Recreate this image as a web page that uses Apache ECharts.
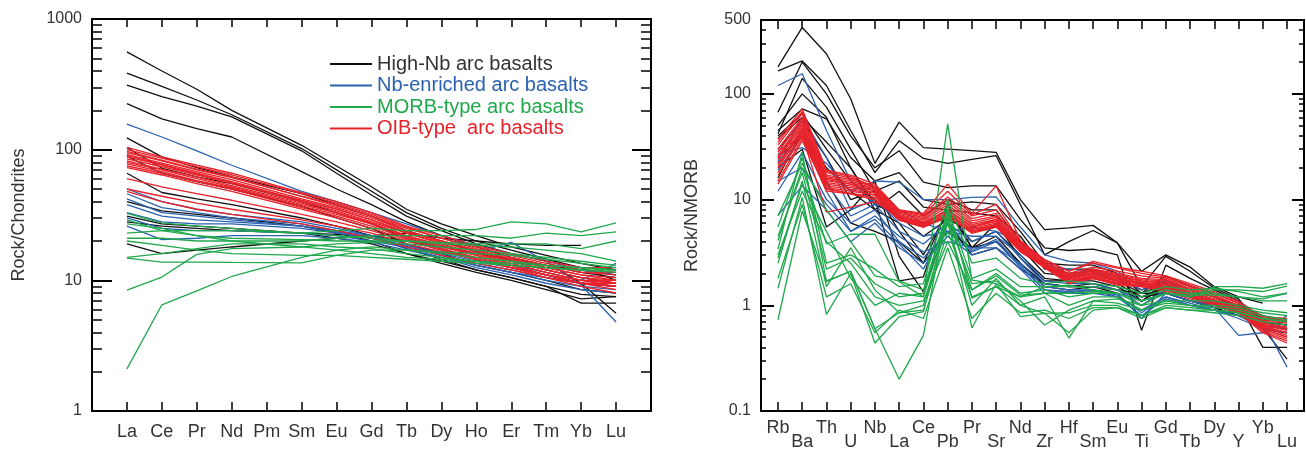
<!DOCTYPE html>
<html>
<head>
<meta charset="utf-8">
<script src="https://cdn.jsdelivr.net/npm/echarts@6/dist/echarts.min.js"></script>
<style>
  html, body { margin: 0; padding: 0; background: #fff; }
  #chart { width: 1306px; height: 451px; }
</style>
</head>
<body>
<div id="chart"></div>
<script>
// ---- data ----
const reeLabels = ['La', 'Ce', 'Pr', 'Nd', 'Pm', 'Sm', 'Eu', 'Gd', 'Tb', 'Dy', 'Ho', 'Er', 'Tm', 'Yb', 'Lu'];
const spiderLabels = ['Rb', 'Ba', 'Th', 'U', 'Nb', 'La', 'Ce', 'Pb', 'Pr', 'Sr', 'Nd', 'Zr', 'Hf', 'Sm', 'Eu', 'Ti', 'Gd', 'Tb', 'Dy', 'Y', 'Yb', 'Lu'];

// rock / chondrite (Pm not analysed)
const reeHighNb = [
  [560, 400, 290, 200, null, 108, 75, 52, 35, 27, 22, 18, 15.5, 13.5, 12],
  [385, 305, 240, 185, null, 102, 70, 48, 33, 25, 20, 17, 14.5, 12.5, 10],
  [312, 255, 215, 178, null, 98, 66, 45, 31, 24, 19, 16, 14, 9.5, 5.6],
  [225, 172, 145, 125, null, 68, 50, 38, 28, 22, 18, 15, 13, 11.5, 10.5],
  [123, 88, 73, 62, null, 46, 38, 31, 24, 20, 16.5, 14, 12, 10.5, 9.5],
  [104, 72, 62, 55, null, 40, 33, 27, 21, 17.5, 14.5, 12.5, 11, 9.5, 9],
  [89, 66, 57, 50, null, 37, 30, 25, 19, 16, 13, 11.5, 10, 8.5, 8],
  [66, 47, 42, 38, null, 30, 26, 22, 17.5, 14.5, 12, 10.5, 9, 7.8, 7.5],
  [40, 34, 32, 30, null, 26, 23, 20, 16, 13.5, 11.5, 10, 8.5, 7.2, 7.5],
  [31, 27, 26, 25, null, 23, 21, 19, 16, 14, 12, 10.5, 9, 6.7, 6.7],
  [28, 26, 25, 24, null, 23, 22.5, 22, 20, 18, 16, 14.5, 13, 12, 11],
  [19, 16, 17, 18, null, 20, 21, 22, 23, 21, 20, 19, 18.5, 18.5, null]
];
const reeNbEnriched = [
  [157, 125, 98, 76, null, 48, 40, 33, 27, 22, 18.5, 16, 14, 12, 11],
  [50, 40, 35, 32, null, 28, 25, 22, 18, 15.5, 13, 11.5, 10, 9, 8.5],
  [46, 36, 33, 30, null, 27, 24, 21, 17.5, 15, 12.5, 11, 9.5, 8.5, 8],
  [42, 33, 31, 29, null, 26, 23.5, 21, 18, 15.5, 13.5, 12, 10.5, 9.5, 9],
  [38, 31, 29, 28, null, 26, 24, 22, 19, 16.5, 14.5, 13, 11.5, 10, 13.5],
  [33, 28, 27, 27, null, 25, 23, 21, 18.5, 16, 16.5, 19.5, 14, 9.2, 4.8],
  [30, 25, 24, 24, null, 23, 22, 20, 18, 16, 14, 12.5, 11, 9.5, 9],
  [26, 20.5, 21, 22, null, 22, 21, 19.5, 17, 15, 13, 11.5, 10.5, 9.5, 9]
];
const reeMorb = [
  [2.1, 6.5, 8.3, 10.7, null, 15, 17, 18, 17, 16, 15, 14, 13, 12.5, 12],
  [8.4, 10.6, 15.8, 17.5, null, 18, 19, 19.5, 19, 18, 17, 16, 15, 14, 13],
  [14.8, 13.8, 13.8, 13.7, null, 13.6, 15.5, 17, 17, 16.5, 16, 15.5, 14.5, 13.5, 12.5],
  [15, 16, 17.5, 19, null, 19, 18, 17.5, 16, 15, 14, 13, 12.5, 12, 11.5],
  [32.5, 27.5, 26, 25, null, 23, 22, 21, 20, 19, 18.5, 18, 17, 16, 14],
  [23, 24, 24, 24, null, 23, 24, 25, 24, 24, 24.5, 28, 27, 23.5, 27.5],
  [21, 21, 20, 20, null, 20, 21, 22, 22, 22, 22, 21, 23, 22, 23.5],
  [27, 25, 22, 21, null, 20.5, 20, 20, 20, 19.5, 19, 19, 19, 17.5, 20],
  [29, 24, 22, 20, null, 18, 17, 16, 15, 14.5, 14, 13.5, 13, 12.5, 12],
  [20, 18.5, 17, 16, null, 15.5, 15.5, 15, 14.5, 14, 13.5, 13, 12.5, 12, 12]
];
const reeOib = [
  [104, 88, 76, 66, null, 47, 40, 33, 26, 22, 18.5, 16, 14, 12.5, 12.5],
  [100, 86, 74, 64, null, 46, 39, 32, 25.5, 21, 18, 15.5, 13.5, 12, 11.5],
  [97, 83, 71, 62, null, 44, 37, 31, 25, 21, 17.5, 15, 13, 11.5, 11],
  [95, 82, 70, 61, null, 44, 38, 31, 24, 20, 17, 14.5, 12.5, 11, 10.5],
  [92, 79, 68, 59, null, 42, 36, 30, 24, 20, 17, 14.5, 12.5, 11, 10],
  [90, 77, 66, 57, null, 41, 35, 29, 23, 19.5, 16.5, 14, 12, 10.5, 10],
  [88, 76, 65, 56, null, 41, 35, 29, 23.5, 20, 17, 14.5, 13, 11.5, 11.5],
  [85, 74, 64, 55, null, 40, 34, 28, 23, 19, 16, 14, 12, 10.5, 9.5],
  [82, 71, 62, 53, null, 39, 33, 27.5, 22, 18.5, 16, 13.5, 11.5, 10, 9],
  [80, 70, 60, 52, null, 38, 33, 27, 22, 18.5, 15.5, 13.5, 11.5, 10, 9.5],
  [78, 68, 58, 51, null, 37, 32, 27, 21.5, 18, 15.5, 13, 11, 9.5, 9],
  [75, 66, 57, 50, null, 36, 31, 26, 21, 17.5, 15, 13, 11, 9.5, 8.5],
  [73, 64, 55, 48, null, 35, 30, 25, 20.5, 17, 14.5, 12.5, 10.5, 9, 8],
  [60, 52, 46, 41, null, 32, 28, 24, 20, 17, 14.5, 12.5, 11, 9.5, 9],
  [50, 44, 39, 35, null, 29, 26, 23, 19, 16.5, 14.5, 12.5, 11, 10, 10],
  [48, 40, 35, 32, null, 27, 24, 21, 18, 15.5, 13.5, 12, 10.5, 9.5, 9.5]
];

// rock / N-MORB
const spiderHighNb = [
  [180, 425, 240, 90, 22, 54, 31, 30, 29, 28, 10, 5.2, 5.4, 5.7, 3.9, 2.1, 3.0, 2.3, 1.5, 1.2, 1.05, null],
  [165, 205, 120, 45, 18, 36, 24.5, 22, 24, 26, 9, 3.0, 4.0, 5.1, 3.9, 1.5, 2.9, 2.1, 1.45, 1.15, 0.61, 0.31],
  [67, 200, 100, 40, 20, 29, 14.6, 13, 13.5, 13.5, 6.5, 3.5, 3.3, 3.4, 3.0, 0.58, 2.4, 1.8, 1.4, 1.1, 0.75, 0.7],
  [45, 72, 58, 25, 15, 18, 10, 9, 9.5, 9, 5, 2.5, 2.4, 2.4, 2.0, 1.3, 1.9, 1.5, 1.3, 1.05, 0.4, 0.4],
  [42, 140, 75, 30, 12, 15, 8.5, 8, 7.5, 7, 4.5, 2.2, 2.2, 2.2, 1.9, 1.08, 1.7, 1.4, 1.2, 1.0, 0.8, 0.7],
  [38, 60, 35, 20, 9, 7, 4.5, 6.5, 5, 5.5, 3.5, 2.0, 1.9, 2.0, 1.7, 1.3, 1.6, 1.3, 1.1, 0.9, 0.65, 0.6],
  [16, 45, 20, 12, 8, 6, 3, 7.5, 4, 5, 3, 1.8, 1.7, 1.7, 1.5, 1.1, 1.5, 1.2, 1.0, 0.85, 0.6, 0.55],
  [30, 55, 25, 10, 12, 5, 2.5, 5, 3.5, 4, 2.5, 1.6, 1.5, 1.6, 1.4, 1.2, 1.3, 1.1, 0.95, 0.8, 0.65, 0.6],
  [20, 30, 5.5, 8, 15, 2.9, 1.34, 6, 3, 3.5, 2.2, 1.6, 1.5, 1.5, 1.4, 1.3, 1.3, 1.1, 1.0, 0.85, 0.7, 0.65],
  [40, 65, 30, 15, 10, 1.7, 1.86, 9, 3.5, 6, 2.8, 1.7, 1.7, 1.8, 1.6, 1.2, 1.5, 1.3, 1.1, 0.9, 0.7, 0.65],
  [50, 100, 60, 20, 8, 12, 7, 10, 8, 8, 4, 2.3, 2.0, 2.1, 1.8, 1.4, 1.7, 1.4, 1.2, 0.95, 0.75, 0.7],
  [25, 40, 15, 6, 5, 4, 2.5, 8, 3.5, 4.5, 2.5, 1.5, 1.4, 1.5, 1.3, 1.1, 1.3, 1.1, 0.95, 0.8, 0.65, 0.6]
];
const spiderNbEnriched = [
  [120, 155, 45, 15, 9, 8, 6, 5, 5.5, 5, 4, 2.4, 2.2, 2.1, 1.8, 1.4, 1.6, 1.3, 1.1, 0.9, 0.7, 0.6],
  [27, 31, 22, 12, 15, 14.6, 10, 10, 10.5, 10.6, 5.5, 3, 2.6, 2.5, 2.1, 1.5, 1.7, 1.3, 1.1, 0.95, 0.8, 0.7],
  [23, 60, 25, 8, 10, 6, 4.5, 5, 4.5, 4.5, 3, 1.7, 1.6, 1.6, 1.4, 1.0, 1.4, 1.2, 1.0, 0.85, 0.7, 0.26],
  [19, 40, 12, 5, 7, 4.5, 3.2, 4, 3.5, 3.5, 2.5, 1.5, 1.4, 1.4, 1.3, 0.75, 1.3, 1.1, 0.95, 0.52, 0.55, 0.8],
  [12, 28, 10, 6, 8, 4, 2.8, 5, 3.2, 4, 2.3, 1.4, 1.3, 1.4, 1.2, 0.9, 1.2, 1.0, 0.9, 0.8, 0.65, 0.6],
  [7.1, 13.5, 8, 4, 6, 3.5, 2.5, 4.5, 3, 3.5, 2.2, 1.3, 1.3, 1.3, 1.2, 0.8, 1.15, 1.0, 0.9, 0.75, 0.6, 0.55],
  [22, 45, 14, 7, 9, 5, 3.8, 6, 4, 5, 2.8, 1.6, 1.5, 1.5, 1.4, 1.1, 1.3, 1.1, 1.0, 0.85, 0.65, 0.6],
  [15, 20, 9, 5, 6.5, 3.8, 2.2, 6, 3.3, 4.2, 2.4, 1.4, 1.35, 1.4, 1.25, 0.85, 1.2, 1.05, 0.9, 0.8, 0.6, 0.55]
];
const spiderMorb = [
  [4.1, 20, 3.8, 4.7, 4.7, 1.67, 1.2, 52, 1.73, 1.6, 1.2, 1.5, 1.55, 1.4, 1.3, 1.1, 1.3, 1.2, 1.4, 1.4, 1.35, 1.52],
  [3.4, 28, 1.67, 2.1, 0.6, 0.2, 0.52, 9, 1.17, 1.5, 1.0, 1.2, 0.49, 1.1, 1.15, 1.0, 1.1, 1.1, 1.1, 1.0, 0.9, 0.85],
  [1.45, 10.5, 0.82, 2.0, 0.44, 0.78, 0.87, 7, 0.61, 1.6, 0.78, 0.84, 0.55, 0.9, 0.95, 0.75, 0.95, 0.9, 0.85, 0.8, 0.7, 0.65],
  [0.73, 7.8, 1.7, 2.1, 0.6, 0.85, 0.9, 5, 1.2, 1.5, 1.2, 1.3, 1.0, 1.2, 1.2, 0.9, 1.1, 1.0, 0.95, 0.9, 0.8, 0.73],
  [7, 22, 8, 4, 1.9, 1.7, 1.4, 8, 1.8, 2.2, 1.5, 1.5, 1.5, 1.5, 1.4, 1.2, 1.4, 1.3, 1.3, 1.2, 1.1, 1.1],
  [2.5, 15, 1.5, 3.5, 1.4, 0.85, 1.0, 6, 1.0, 1.8, 1.0, 0.84, 0.85, 1.0, 1.0, 0.8, 1.0, 0.95, 0.9, 0.85, 0.75, 0.7],
  [5.5, 25, 2.5, 3, 2.2, 1.5, 1.6, 10, 2.5, 2.8, 1.8, 1.6, 1.7, 1.6, 1.5, 1.3, 1.5, 1.4, 1.45, 1.35, 1.2, 1.3],
  [3, 12, 4, 2.5, 1.2, 1.0, 1.1, 4, 1.4, 2.0, 1.3, 1.4, 1.2, 1.3, 1.3, 1.0, 1.3, 1.2, 1.5, 1.5, 1.45, 1.6],
  [1.8, 9, 1.2, 1.6, 0.55, 0.9, 0.75, 3.5, 0.75, 1.3, 0.85, 0.9, 0.75, 0.95, 0.95, 0.8, 0.95, 0.9, 0.9, 0.85, 0.75, 0.7],
  [4.5, 18, 2.2, 2.8, 1.6, 1.2, 1.3, 7.5, 1.4, 1.9, 1.25, 1.3, 1.3, 1.35, 1.3, 1.1, 1.3, 1.25, 1.25, 1.2, 1.15, 1.3],
  [2.8, 14, 5, 1.8, 1.0, 1.3, 1.2, 6.5, 1.6, 1.7, 1.1, 0.65, 0.9, 1.1, 1.05, 0.9, 1.05, 1.0, 1.0, 0.95, 0.85, 0.8]
];
const spiderOib = [
  [37, 72, 19, 17, 14, 8, 7.4, 14, 7.4, 13.5, 4.1, 2.7, 2.1, 2.6, 2.3, 2.1, 1.9, 1.6, 1.35, 1.09, 0.78, 0.75],
  [33, 65, 18, 16, 13.5, 7.8, 7.0, 10.6, 7.0, 8, 4.0, 2.6, 2.0, 2.3, 2.1, 1.9, 1.8, 1.5, 1.3, 1.05, 0.75, 0.72],
  [30, 60, 17, 15.5, 13, 7.6, 6.8, 10, 6.6, 7.4, 3.9, 2.6, 1.95, 2.2, 2.0, 1.8, 1.75, 1.45, 1.25, 1.0, 0.72, 0.7],
  [28, 58, 16.5, 15, 12.5, 7.4, 6.6, 9.5, 6.3, 7, 3.8, 2.5, 1.9, 2.15, 1.95, 1.75, 1.7, 1.4, 1.2, 1.0, 0.7, 0.68],
  [26, 55, 16, 14.5, 12.5, 7.2, 6.4, 9, 6.0, 6.8, 3.7, 2.5, 1.85, 2.1, 1.9, 1.7, 1.65, 1.4, 1.2, 0.98, 0.68, 0.62],
  [25, 52, 15.5, 14, 12, 7.0, 6.2, 8.5, 5.8, 6.5, 3.6, 2.45, 1.8, 2.05, 1.85, 1.7, 1.6, 1.35, 1.15, 0.95, 0.66, 0.6],
  [24, 50, 15, 14, 12, 7.0, 6.0, 8, 5.6, 6.3, 3.6, 2.4, 1.8, 2.0, 1.8, 1.65, 1.55, 1.3, 1.12, 0.93, 0.65, 0.58],
  [22, 48, 14.5, 13.5, 11.5, 6.8, 5.9, 7.8, 5.5, 6.2, 3.5, 2.4, 1.75, 1.95, 1.75, 1.6, 1.5, 1.3, 1.1, 0.92, 0.64, 0.55],
  [21, 46, 14, 13, 11.5, 6.7, 5.8, 7.5, 5.3, 6.0, 3.4, 2.35, 1.7, 1.9, 1.7, 1.6, 1.5, 1.25, 1.08, 0.9, 0.62, 0.52],
  [20, 44, 13.5, 12.5, 11, 6.6, 5.7, 7.2, 5.2, 5.8, 3.4, 2.3, 1.7, 1.85, 1.65, 1.55, 1.45, 1.22, 1.05, 0.88, 0.6, 0.5],
  [18, 42, 13, 12, 11, 6.5, 5.6, 7, 5.0, 5.7, 3.3, 2.3, 1.65, 1.8, 1.6, 1.5, 1.4, 1.2, 1.03, 0.86, 0.58, 0.48],
  [17, 40, 12.5, 11.5, 10.5, 6.4, 5.5, 6.8, 4.9, 5.6, 3.3, 2.25, 1.6, 1.8, 1.55, 1.5, 1.35, 1.15, 1.0, 0.85, 0.56, 0.46],
  [15, 38, 12, 11.3, 10, 6.4, 5.5, 7, 4.8, 5.5, 3.2, 2.3, 1.65, 1.85, 1.6, 1.55, 1.4, 1.2, 1.02, 0.84, 0.55, 0.44],
  [35, 68, 18.5, 16.5, 13, 7.9, 7.2, 12, 7.2, 9, 4.0, 2.7, 2.1, 2.5, 2.25, 2.0, 1.85, 1.55, 1.3, 1.05, 0.76, 0.74],
  [29, 40, 7.6, 8.5, 9.5, 7.0, 6.0, 8, 5.5, 6.5, 3.5, 2.4, 1.8, 2.0, 1.8, 1.65, 1.55, 1.3, 1.1, 0.9, 0.62, 0.55],
  [14, 36, 12.8, 11.3, 10, 6.5, 5.6, 6.8, 5.0, 5.8, 3.3, 2.35, 1.7, 1.9, 1.7, 1.6, 1.45, 1.25, 1.05, 0.87, 0.6, 0.5]
];

const groups = [
  { name: 'High-Nb arc basalts', color: '#111111', text: '#333333', ree: reeHighNb, spider: spiderHighNb },
  { name: 'Nb-enriched arc basalts', color: '#2a62b0', text: '#2a62b0', ree: reeNbEnriched, spider: spiderNbEnriched },
  { name: 'MORB-type arc basalts', color: '#20a84c', text: '#20a84c', ree: reeMorb, spider: spiderMorb },
  { name: 'OIB-type  arc basalts', color: '#e8222a', text: '#e8222a', ree: reeOib, spider: spiderOib }
];
// draw order: black, blue, red, green on top
const drawOrder = [0, 1, 3, 2];

const FONT = '"Liberation Sans", Arial, sans-serif';

function minorLog(lo, hi) {
  const out = [];
  for (let d = lo; d < hi; d++) {
    for (let k = 2; k <= 9; k++) {
      const v = Math.log10(k * Math.pow(10, d));
      if (v < hi - 1e-9) out.push(v);
    }
  }
  return out;
}

const series = [];
drawOrder.forEach(gi => {
  const g = groups[gi];
  g.ree.forEach(row => {
    series.push({
      type: 'line', name: g.name, xAxisIndex: 0, yAxisIndex: 0,
      symbol: 'none', silent: true,
      lineStyle: { color: g.color, width: 1.3 }, itemStyle: { color: g.color },
      data: row.map((v, i) => [i, v]).filter(p => p[1] != null)
    });
  });
  g.spider.forEach(row => {
    series.push({
      type: 'line', name: g.name, xAxisIndex: 2, yAxisIndex: 4,
      symbol: 'none', silent: true,
      lineStyle: { color: g.color, width: 1.3 }, itemStyle: { color: g.color },
      data: row.map((v, i) => [i, v]).filter(p => p[1] != null)
    });
  });
});

const frame = { show: true, onZero: false, lineStyle: { color: '#000', width: 2 } };
const noLine = { show: false, onZero: false };
const reeIdx = reeLabels.map((_, i) => i);
const spiderIdx = spiderLabels.map((_, i) => i);
const spiderTop = Math.log10(500);
const tickFmt = v => String(+v.toPrecision(6));

const chart = echarts.init(document.getElementById('chart'));
chart.setOption({
  animation: false,
  backgroundColor: '#fff',
  textStyle: { fontFamily: FONT },
  grid: [
    { left: 92, top: 19, width: 559, height: 392, outerBoundsMode: 'none', containLabel: false },
    { left: 761, top: 20, width: 543, height: 391, outerBoundsMode: 'none', containLabel: false }
  ],
  legend: {
    orient: 'vertical', left: 325, top: 49,
    itemWidth: 42, itemHeight: 14, itemGap: 1.5,
    icon: 'path://M0,0H42V2H0Z',
    data: groups.map(g => ({ name: g.name, textStyle: { color: g.text } })),
    textStyle: { fontSize: 20, fontFamily: FONT }
  },
  xAxis: [
    {
      gridIndex: 0, type: 'value', position: 'bottom', min: -1, max: 15,
      axisLine: frame, splitLine: { show: false },
      axisTick: { inside: true, length: 9, customValues: reeIdx, lineStyle: { color: '#000', width: 1.5 } },
      axisLabel: { customValues: reeIdx, formatter: v => reeLabels[v] || '', margin: 12, fontSize: 18, color: '#333' }
    },
    {
      gridIndex: 0, type: 'value', position: 'top', min: -1, max: 15,
      axisLine: frame, splitLine: { show: false }, axisLabel: { show: false },
      axisTick: { inside: true, length: 8, customValues: reeIdx, lineStyle: { color: '#000', width: 1.5 } }
    },
    {
      gridIndex: 1, type: 'value', position: 'bottom', min: -0.7, max: 21.7,
      axisLine: frame, splitLine: { show: false },
      axisTick: { inside: true, length: 9, customValues: spiderIdx, lineStyle: { color: '#000', width: 1.5 } },
      axisLabel: {
        customValues: spiderIdx, margin: 18, color: '#333',
        formatter: v => (v % 2 === 0 ? '{up|' : '{dn|') + spiderLabels[v] + '}',
        rich: {
          up: { fontSize: 18, lineHeight: 13, color: '#333', fontFamily: FONT, padding: [0, 0, 14, 0] },
          dn: { fontSize: 18, lineHeight: 13, color: '#333', fontFamily: FONT, padding: [14, 0, 0, 0] }
        }
      }
    },
    {
      gridIndex: 1, type: 'value', position: 'top', min: -0.7, max: 21.7,
      axisLine: frame, splitLine: { show: false }, axisLabel: { show: false },
      axisTick: { inside: true, length: 9, customValues: spiderIdx, lineStyle: { color: '#000', width: 1.5 } }
    }
  ],
  yAxis: [
    {
      gridIndex: 0, type: 'log', logBase: 10, min: 1, max: 1000, position: 'left',
      axisLine: frame, splitLine: { show: false },
      axisTick: { inside: true, length: 20, lineStyle: { color: '#000', width: 2 } },
      axisLabel: { fontSize: 16, color: '#333', margin: 10, formatter: tickFmt },
      name: 'Rock/Chondrites', nameLocation: 'middle', nameGap: 64,
      nameTextStyle: { fontSize: 18, color: '#333', fontFamily: FONT }
    },
    {
      gridIndex: 0, type: 'value', min: 0, max: 3, position: 'left',
      axisLine: noLine, splitLine: { show: false }, axisLabel: { show: false },
      axisTick: { inside: true, length: 10, customValues: minorLog(0, 3), lineStyle: { color: '#000', width: 1.5 } }
    },
    {
      gridIndex: 0, type: 'log', logBase: 10, min: 1, max: 1000, position: 'right',
      axisLine: frame, splitLine: { show: false }, axisLabel: { show: false },
      axisTick: { inside: true, length: 19, lineStyle: { color: '#000', width: 2 } }
    },
    {
      gridIndex: 0, type: 'value', min: 0, max: 3, position: 'right',
      axisLine: noLine, splitLine: { show: false }, axisLabel: { show: false },
      axisTick: { inside: true, length: 10, customValues: minorLog(0, 3), lineStyle: { color: '#000', width: 1.5 } }
    },
    {
      gridIndex: 1, type: 'log', logBase: 10, min: 0.1, max: 500, position: 'left',
      axisLine: frame, splitLine: { show: false },
      axisTick: { inside: true, length: 13, lineStyle: { color: '#000', width: 2 } },
      axisLabel: { fontSize: 16, color: '#333', margin: 10, formatter: tickFmt },
      name: 'Rock/NMORB', nameLocation: 'middle', nameGap: 60,
      nameTextStyle: { fontSize: 18, color: '#333', fontFamily: FONT }
    },
    {
      gridIndex: 1, type: 'value', min: -1, max: spiderTop, position: 'left',
      axisLine: noLine, splitLine: { show: false }, axisLabel: { show: false },
      axisTick: { inside: true, length: 5, customValues: minorLog(-1, spiderTop), lineStyle: { color: '#000', width: 1.5 } }
    },
    {
      gridIndex: 1, type: 'log', logBase: 10, min: 0.1, max: 500, position: 'right',
      axisLine: frame, splitLine: { show: false }, axisLabel: { show: false },
      axisTick: { inside: true, length: 12, lineStyle: { color: '#000', width: 2 } }
    },
    {
      gridIndex: 1, type: 'value', min: -1, max: spiderTop, position: 'right',
      axisLine: noLine, splitLine: { show: false }, axisLabel: { show: false },
      axisTick: { inside: true, length: 5, customValues: minorLog(-1, spiderTop), lineStyle: { color: '#000', width: 1.5 } }
    }
  ],
  series: series
});
</script>
</body>
</html>
